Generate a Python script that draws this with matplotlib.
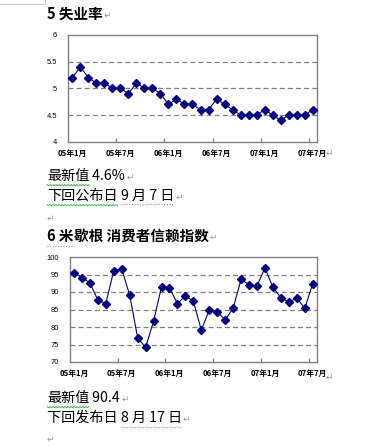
import matplotlib
matplotlib.use("Agg")
import matplotlib.pyplot as plt
from matplotlib.lines import Line2D
import numpy as np

# ---------------- data ----------------
months = ["05年1月", "05年2月", "05年3月", "05年4月", "05年5月", "05年6月",
          "05年7月", "05年8月", "05年9月", "05年10月", "05年11月", "05年12月",
          "06年1月", "06年2月", "06年3月", "06年4月", "06年5月", "06年6月",
          "06年7月", "06年8月", "06年9月", "06年10月", "06年11月", "06年12月",
          "07年1月", "07年2月", "07年3月", "07年4月", "07年5月", "07年6月",
          "07年7月"]
unemployment = [5.2, 5.4, 5.2, 5.1, 5.1, 5.0, 5.0, 4.9, 5.1, 5.0, 5.0, 4.9,
                4.7, 4.8, 4.7, 4.7, 4.6, 4.6, 4.8, 4.7, 4.6, 4.5, 4.5, 4.5,
                4.6, 4.5, 4.4, 4.5, 4.5, 4.5, 4.6]
sentiment = [95.5, 94.1, 92.6, 87.7, 86.7, 96.1, 96.6, 89.1, 76.9, 74.2, 81.6,
             91.5, 91.2, 86.7, 88.9, 87.4, 79.1, 84.9, 84.4, 82.0, 85.4, 93.6,
             92.1, 91.7, 96.9, 91.3, 88.4, 87.1, 88.3, 85.3, 92.4]
xtick_labels = ["05年1月", "05年7月", "06年1月", "06年7月", "07年1月", "07年7月"]

title1 = "5 失业率"
title2_a = "6 米"
title2_b = "歇根 消费者信赖指数"

W, H = 373, 446
DPI = 100
fig = plt.figure(figsize=(W / DPI, H / DPI), dpi=DPI)
fig.patch.set_facecolor("white")

CJK = ["Noto Sans CJK SC", "DejaVu Sans"]
BODY = CJK
NAVY = "#000080"
GRAY = "#808080"


def px_axes(left, top, right, bottom):
    return fig.add_axes([left / W, 1 - bottom / H, (right - left) / W, (bottom - top) / H])


def draw_chart(ax, values, ylim, yticks, ylabels, grid):
    x = np.arange(len(values))
    ax.plot(x, values, color=NAVY, lw=0.8, marker="D", ms=3.9,
            mfc=NAVY, mec=NAVY, zorder=3, clip_on=False)
    ax.set_xlim(-0.5, len(values) - 0.5)
    ax.set_ylim(*ylim)
    for g in grid:
        ax.axhline(g, color=GRAY, lw=0.9, ls=(0, (4, 2.5)), zorder=1)
    for s in ax.spines.values():
        s.set_color(GRAY)
        s.set_linewidth(1.0)
    ax.set_yticks(yticks)
    ax.set_yticklabels(ylabels, family=["Liberation Sans"], fontsize=5.4)
    ax.tick_params(axis="y", length=0, pad=8)
    # major ticks: category boundaries every 6 months
    ax.set_xticks([i - 0.5 for i in range(0, len(values), 6)][1:])
    ax.set_xticklabels([])
    ax.tick_params(axis="x", direction="in", length=3, color=GRAY, width=0.9)
    # labels centered under categories
    for i, lab in zip(range(0, len(values), 6), xtick_labels):
        ax.text(i, -0.11, lab, transform=ax.get_xaxis_transform(), ha="center",
                va="center", fontsize=5.6, fontweight="bold", family=CJK)


ax1 = px_axes(68.3, 35, 316.7, 141.7)
draw_chart(ax1, unemployment, (4, 6), [4, 4.5, 5, 5.5, 6],
           ["4", "4.5", "5", "5.5", "6"], [4.5, 5, 5.5])

ax2 = px_axes(70, 257, 316.7, 362)
draw_chart(ax2, sentiment, (70, 100), [70, 75, 80, 85, 90, 95, 100],
           ["70", "75", "80", "85", "90", "95", "100"], [75, 80, 85, 90, 95])

# --------------- document text ---------------
fig.canvas.draw()
renderer = fig.canvas.get_renderer()


def line(y, segs, x0=47, size=10.2, mark=True, fam=BODY):
    x = x0
    for txt, style, bold in segs:
        t = fig.text(x / W, 1 - y / H, txt, ha="left", va="center",
                     fontsize=size, family=fam,
                     fontweight="bold" if bold else "normal")
        bb = t.get_window_extent(renderer)
        x1 = x + bb.width
        ybase = H - bb.y0 + 1.5
        if style == "wavy":
            xs = np.arange(x, x1 + 0.1, 1.5)
            ys = ybase + np.where(np.arange(len(xs)) % 2 == 0, 0, 1.3)
            fig.add_artist(Line2D(xs / W, 1 - ys / H, color="#33aa33", lw=0.6))
        elif style == "dotted":
            fig.add_artist(Line2D([x / W, x1 / W], [1 - ybase / H] * 2,
                                  color="#cc44cc", lw=0.8, ls=(0, (0.8, 1.6))))
        x = x1
    if mark:
        fig.text((x + 1) / W, 1 - (y + 1) / H, "↵", ha="left", va="center",
                 fontsize=6.5, color="#999999", family=["DejaVu Sans"])


line(14, [(title1, None, True)], size=10.5)
line(176, [("最新值", "wavy", False), (" 4.6%", None, False)])
line(196, [("下回公布日", "wavy", False), (" ", None, False),
           ("9 月 7 日", "dotted", False)])
fig.text(47 / W, 1 - 218 / H, "↵", ha="left", va="center", fontsize=6.5,
         color="#999999", family=["DejaVu Sans"])
line(236, [(title2_a, "dotted", True), (title2_b, None, True)], size=10.5)
line(398, [("最新值", "wavy", False), (" 90.4", None, False)])
line(418, [("下回发布日 ", None, False), ("8 月 17 日", "dotted", False)])
fig.text(47 / W, 1 - 439 / H, "↵", ha="left", va="center", fontsize=6.5,
         color="#999999", family=["DejaVu Sans"])

# x-label paragraph marks at chart ends
for yy in (153, 377):
    fig.text(326 / W, 1 - yy / H, "↵", ha="left", va="center", fontsize=6.5,
             color="#999999", family=["DejaVu Sans"])

# remnant table border top-left
fig.add_artist(Line2D([0, 45 / W, 45 / W], [1 - 4 / H, 1 - 4 / H, 1], color="#bbbbbb", lw=0.6))

fig.savefig("out.png", dpi=DPI, facecolor="white")
